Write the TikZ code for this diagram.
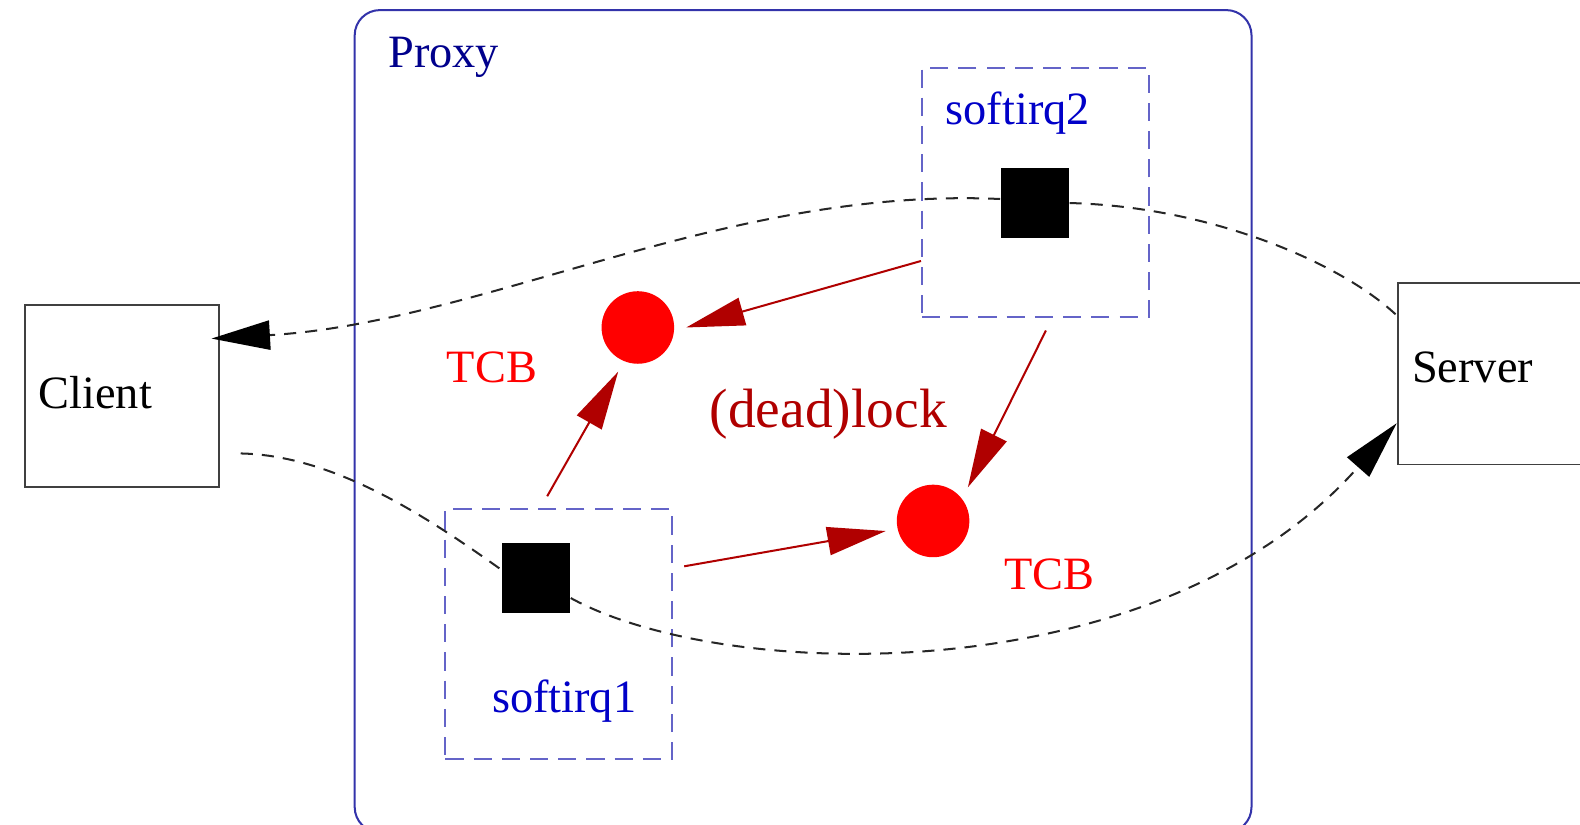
\documentclass[tikz,border=0pt]{standalone}
\usepackage{fontspec}
\setmainfont{Liberation Serif}
\newfontfamily\labelfont{Liberation Serif}
\usetikzlibrary{arrows.meta}

\definecolor{proxyline}{RGB}{51,51,170}
\definecolor{proxytext}{RGB}{0,0,140}
\definecolor{irqline}{RGB}{100,100,200}
\definecolor{irqtext}{RGB}{0,0,200}
\definecolor{lockred}{RGB}{176,0,0}
\definecolor{tcbred}{RGB}{255,0,0}

\tikzset{
  hostbox/.style={draw=black!75, line width=0.9pt, minimum width=96pt, minimum height=90pt, inner sep=0pt},
  cluster/.style={draw=proxyline, line width=1pt, rounded corners=12.5pt, minimum width=445pt, minimum height=408pt, inner sep=0pt},
  irqbox/.style={draw=irqline, line width=1pt, dash pattern=on 9pt off 5pt, minimum width=112.5pt, minimum height=124pt, inner sep=0pt},
  task/.style={fill=black, minimum width=34pt, minimum height=34.5pt, inner sep=0pt},
  tcb/.style={circle, fill=tcbred, minimum size=36pt, inner sep=0pt, outer sep=6pt},
  txt/.style={anchor=base west, inner sep=0pt, font=\labelfont\fontsize{23pt}{27pt}\selectfont},
  flowplain/.style={draw=black!85, line width=1pt, dash pattern=on 6pt off 4.5pt},
  flow/.style={flowplain,
    -{Triangle[length=29pt,width=14.5pt,color=black]}},
  lockarrow/.style={draw=lockred, line width=1pt, -{Triangle[length=29pt,width=14pt]}},
}

\begin{document}
\begin{tikzpicture}[x=0.5pt, y=-0.5pt]
  \useasboundingbox (0,0) rectangle (1568,818);

  % hosts and the proxy cluster
  \node[hostbox] (client) at (121,393) {};
  \node[hostbox, minimum width=100pt] (server) at (1487,371) {};
  \node[cluster] (proxy) at (797,418) {};

  % softirq contexts
  \node[irqbox] (box2) at (1027.5,191) {};
  \node[irqbox] (box1) at (554.5,629.5) {};
  \node[task] (sq2) at (1027,201.5) {};
  \node[task] (sq1) at (532,573.5) {};

  % locked control blocks
  \node[tcb] (c1) at (633,325) {};
  \node[tcb] (c2) at (926,517) {};

  % labels
  \node[txt, text=proxytext] (lproxy) at (385,67) {Proxy};
  \node[txt, text=irqtext] (lirq2) at (938,124) {softirq2};
  \node[txt, text=irqtext] (lirq1) at (488,707) {softirq1};
  \node[txt] (lclient) at (38,405) {Client};
  \node[txt] (lserver) at (1401,380) {Server};
  \node[txt, text=tcbred] (ltcb1) at (443,380) {TCB};
  \node[txt, text=tcbred] (ltcb2) at (996,585) {TCB};
  \node[txt, text=lockred, font=\labelfont\fontsize{27.5pt}{32pt}\selectfont] (llock) at (704,424) {(dead)lock};

  % packet paths
  \draw[flow] ([yshift=2pt]sq2.west) .. controls (720,185) and (480,320) .. ([xshift=-4pt,yshift=28.5pt]client.east);
  \draw[flowplain] (sq2.east) .. controls (1200,205) and (1330,260) .. ([yshift=29pt]server.west);
  \draw[flowplain] ([xshift=10.5pt,yshift=-28.5pt]client.east) .. controls (330,452) and (420,510) .. ([yshift=4pt]sq1.west);
  \draw[flow] ([yshift=-10pt]sq1.east) .. controls (720,678) and (1150,688) .. ([yshift=-24.5pt]server.west);

  % lock acquisition
  \draw[lockarrow] ([yshift=-34pt]box2.west) -- (c1.east);
  \draw[lockarrow] ([xshift=-5.75pt,yshift=6pt]box1.north) -- (c1.246);
  \draw[lockarrow] ([xshift=5.25pt,yshift=-6pt]box2.south) -- (c2.44);
  \draw[lockarrow] ([xshift=5.5pt,yshift=33.75pt]box1.east) -- (c2.192);
\end{tikzpicture}
\end{document}
